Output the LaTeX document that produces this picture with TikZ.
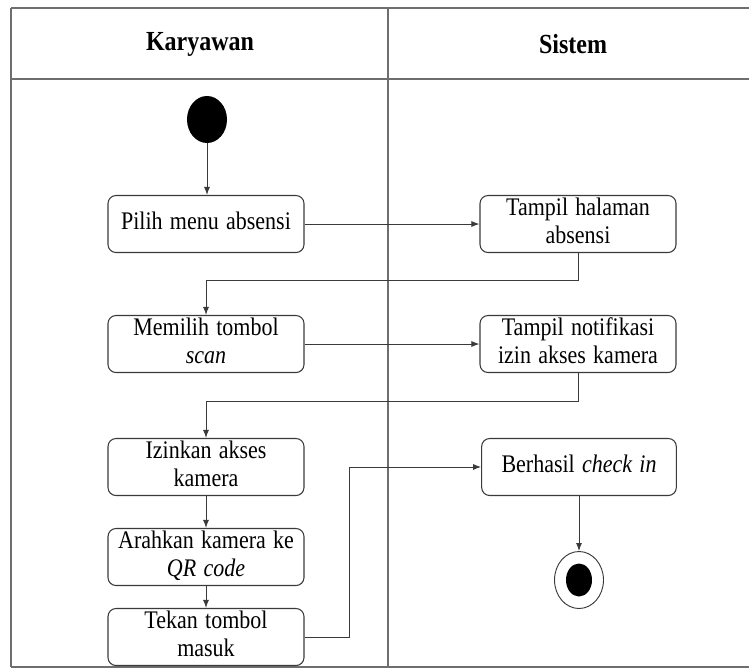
\documentclass[tikz,border=0pt]{standalone}
\usepackage{fontspec}
\setmainfont{Liberation Serif}
\usepackage{graphicx}
\usetikzlibrary{shapes.geometric,arrows.meta}
\newcommand{\lbl}[1]{\scalebox{1}[1.15]{\spaceskip=0.33em plus 0.1em\relax\begin{tabular}{@{}c@{}}#1\end{tabular}}}
\definecolor{frm}{HTML}{6E6E6E}
\definecolor{ln}{HTML}{3A3A3A}
\tikzset{
  act/.style={draw=ln, line width=0.8pt, rounded corners=6pt, minimum width=147pt, minimum height=42.75pt, inner sep=0pt, font=\fontsize{16.5}{18}\selectfont, text=black},
  flow/.style={draw=ln, line width=0.75pt, -{Latex[length=6pt,width=4.5pt]}},
  frame/.style={draw=frm, line width=1.1pt},
  hdr/.style={font=\fontsize{18}{20}\selectfont\bfseries, text=black}
}
\begin{document}
\begin{tikzpicture}[x=0.75pt,y=-0.75pt]
\useasboundingbox (0,0) rectangle (749,669);
% swimlane frame
\draw[frame] (11,8) -- (752,8);
\draw[frame] (11,79) -- (752,79);
\draw[frame] (11,8) -- (11,667);
\draw[frame] (11,667) -- (752,667);
\draw[frame] (388,8) -- (388,667);
\node[hdr] (h1) at (200,44) {\scalebox{1}[1.15]{Karyawan}};
\node[hdr] (h2) at (573,44) {\scalebox{1}[1.15]{Sistem}};
% start
\node[ellipse, fill=black, minimum width=30pt, minimum height=35.25pt, inner sep=0pt] (start) at (207,119.5) {};
% activities
\node[act] (b1) at (206,224) {\lbl{Pilih menu absensi}};
\node[act] (b2) at (578,224) {\lbl{Tampil halaman\\absensi}};
\node[act] (b3) at (206,344) {\lbl{Memilih tombol\\\textit{scan}}};
\node[act] (b4) at (578,344) {\lbl{Tampil notifikasi\\izin akses kamera}};
\node[act] (b5) at (206,467) {\lbl{Izinkan akses\\kamera}};
\node[act] (b6) at (206,557) {\lbl{Arahkan kamera ke\\\textit{QR code}}};
\node[act] (b7) at (206,637) {\lbl{Tekan tombol\\masuk}};
\node[act, minimum width=146pt] (b8) at (579,467) {\lbl{Berhasil \textit{check in}}};
% end
\node[ellipse, draw=ln, line width=0.7pt, minimum width=36.75pt, minimum height=42.75pt, inner sep=0pt] (endo) at (579,580) {};
\node[ellipse, fill=black, minimum width=19.5pt, minimum height=24.75pt, inner sep=0pt] (endi) at (579,580) {};
% coordinates
\coordinate (c1) at (578,280);
\coordinate (c2) at (578,401);
\coordinate (c3) at (349,637);
% connectors
\draw[flow] (start.south) -- (start.south |- b1.north);
\draw[flow] (b1.east) -- (b2.west);
\draw[flow] (b2.south) -- (c1) -| (b3.north);
\draw[flow] (b3.east) -- (b4.west);
\draw[flow] (b4.south) -- (c2) -| (b5.north);
\draw[flow] (b5) -- (b6);
\draw[flow] (b6) -- (b7);
\draw[flow] (b7.east) -- (c3) |- (b8.west);
\draw[flow] (b8.south) -- (endo.north);
\end{tikzpicture}
\end{document}
